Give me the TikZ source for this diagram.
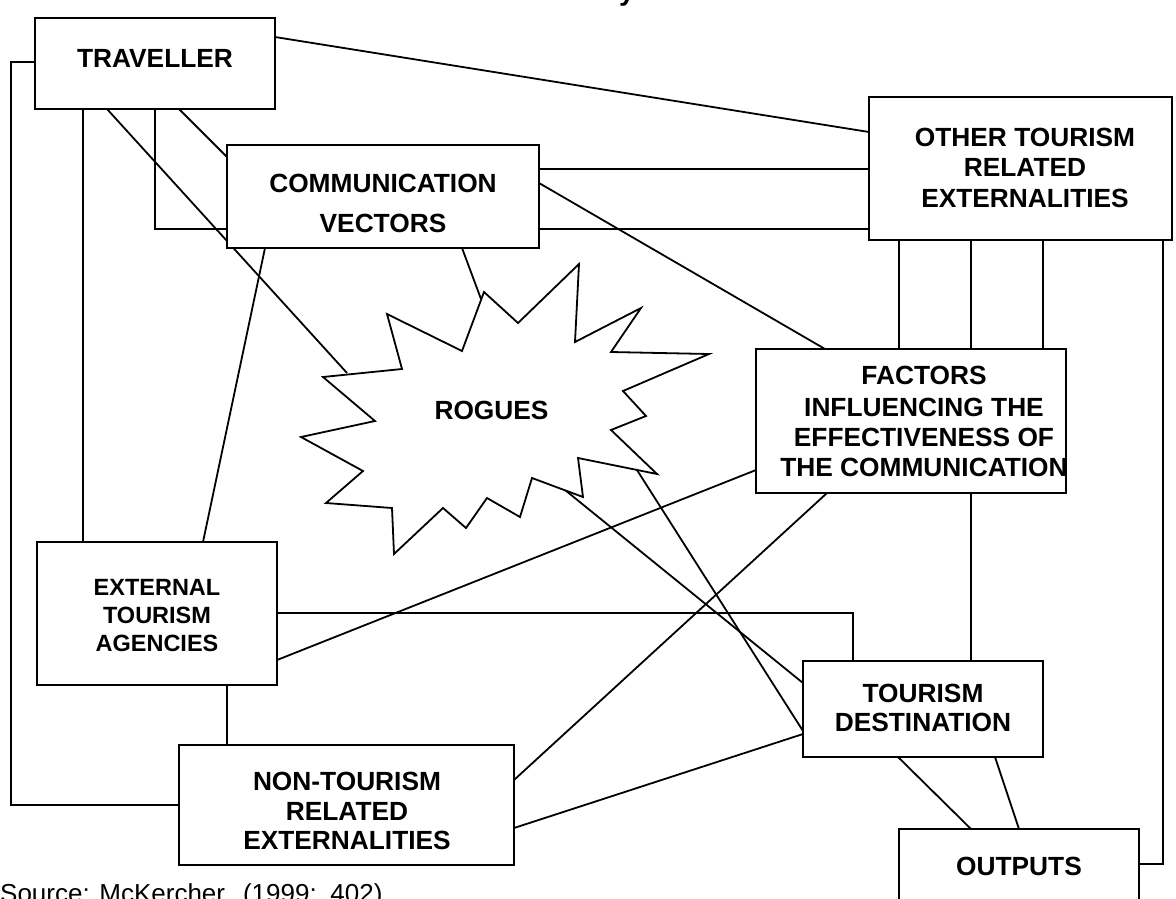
\documentclass[tikz,border=0pt]{standalone}
\usepackage{fontspec}
\setmainfont{Liberation Sans}
\usetikzlibrary{backgrounds}
\tikzset{
  x=1pt, y=-1pt,
  box/.style={draw=black, fill=white, line width=1.8pt, inner sep=0pt, outer sep=0pt},
  conn/.style={draw=black, line width=1.8pt},
  lbl/.style={anchor=base, inner sep=0pt, font=\fontsize{26.3}{30}\selectfont\bfseries},
  lbls/.style={anchor=base, inner sep=0pt, font=\fontsize{23.5}{28}\selectfont\bfseries},
  starshape/.style={draw=black, fill=white, line width=1.8pt, line join=miter},
}
\begin{document}
\begin{tikzpicture}
\useasboundingbox (0,0) rectangle (1176,898);
\clip (0,0) rectangle (1176,898);
% boxes (left,top)-(right,bottom)
\node[box, minimum width=240pt, minimum height=91pt] (trav) at (155,63.5) {};
\node[box, minimum width=312pt, minimum height=103pt] (comm) at (383,196.5) {};
\node[box, minimum width=303pt, minimum height=143pt] (other) at (1020.5,168.5) {};
\node[box, minimum width=310pt, minimum height=144pt] (fact) at (911,421) {};
\node[box, minimum width=240pt, minimum height=143pt] (ext) at (157,613.5) {};
\node[box, minimum width=335pt, minimum height=120pt] (non) at (346.5,805) {};
\node[box, minimum width=240pt, minimum height=96pt] (dest) at (923,709) {};
\node[box, minimum width=240pt, minimum height=90pt] (out) at (1019,874) {};
% star connection points
\coordinate (s-t) at (347,373);
\coordinate (s-c) at (481,299);
\coordinate (s-d1) at (565,490);
\coordinate (s-d2) at (637,470);
\coordinate (l2) at (11,805);
% star (rogues)
\draw[starshape] (484,292) -- (518,323) -- (579,264) -- (575,342) -- (641,308) -- (611,352) -- (709,354) -- (623,391) -- (646,416) -- (611,430) -- (657,474) -- (578,458) -- (583,497) -- (532,478) -- (520,517) -- (487,498) -- (466,528) -- (443,508) -- (394,554) -- (392,508) -- (326,503) -- (363,471) -- (301,437) -- (375,421) -- (323,377) -- (402,369) -- (387,314) -- (462,351) -- cycle;
% connectors
\begin{pgfonlayer}{background}
\draw[conn] ([yshift=-44pt]trav.north west) -| (l2) -- (non.west);
\draw[conn] ([xshift=48pt]trav.south west) -- ([xshift=46pt]ext.north west);
\draw[conn] ([xshift=72pt]trav.south west) -- (s-t);
\draw[conn] ([xshift=120pt]trav.south west) |- ([yshift=-84pt]comm.north west);
\draw[conn] ([xshift=144pt]trav.south west) -- ([yshift=-12pt]comm.north west);
\draw[conn] ([yshift=-19pt]trav.north east) -- ([yshift=-35pt]other.north west);
\draw[conn] ([yshift=-24pt]comm.north east) -- ([yshift=-72pt]other.north west);
\draw[conn] ([yshift=-84pt]comm.north east) -- ([yshift=-132pt]other.north west);
\draw[conn] ([yshift=-38pt]comm.north east) -- ([xshift=69pt]fact.north west);
\draw[conn] ([xshift=38pt]comm.south west) -- ([xshift=166pt]ext.north west);
\draw[conn] ([xshift=235pt]comm.south west) -- (s-c);
\draw[conn] ([xshift=30pt]other.south west) -- ([xshift=143pt]fact.north west);
\draw[conn] ([xshift=102pt]other.south west) -- ([xshift=215pt]fact.north west);
\draw[conn] ([xshift=174pt]other.south west) -- ([xshift=287pt]fact.north west);
\draw[conn] ([xshift=294pt]other.south west) |- ([yshift=-35pt]out.north east);
\draw[conn] ([xshift=215pt]fact.south west) -- ([xshift=168pt]dest.north west);
\draw[conn] ([yshift=-121pt]fact.north west) -- ([yshift=-118pt]ext.north east);
\draw[conn] ([xshift=71pt]fact.south west) -- ([yshift=-35pt]non.north east);
\draw[conn] ([yshift=-71pt]ext.north east) -| ([xshift=50pt]dest.north west);
\draw[conn] ([xshift=190pt]ext.south west) -- ([xshift=48pt]non.north west);
\draw[conn] ([yshift=-83pt]non.north east) -- ([yshift=-73pt]dest.north west);
\draw[conn] (s-d1) -- ([yshift=-22pt]dest.north west);
\draw[conn] (s-d2) -- ([yshift=-70pt]dest.north west);
\draw[conn] ([xshift=95pt]dest.south west) -- ([xshift=72pt]out.north west);
\draw[conn] ([xshift=192pt]dest.south west) -- ([xshift=120pt]out.north west);
\end{pgfonlayer}
% texts
\node[lbl] (t-trav) at (155,67.4) {TRAVELLER};
\node[lbl] (t-comm1) at (383,192.4) {COMMUNICATION};
\node[lbl] (t-comm2) at (383,232.4) {VECTORS};
\node[lbl] (t-oth1) at (1025,146.4) {OTHER TOURISM};
\node[lbl] (t-oth2) at (1025,176.4) {RELATED};
\node[lbl] (t-oth3) at (1025,207.4) {EXTERNALITIES};
\node[lbl] (t-fac1) at (924,384.4) {FACTORS};
\node[lbl] (t-fac2) at (924,416.4) {INFLUENCING THE};
\node[lbl] (t-fac3) at (924,446.4) {EFFECTIVENESS OF};
\node[lbl] (t-fac4) at (924,476.4) {THE COMMUNICATION};
\node[lbl] (t-rog) at (491.5,419.4) {ROGUES};
\node[lbls] (t-ext1) at (157,595.4) {EXTERNAL};
\node[lbls] (t-ext2) at (157,623.4) {TOURISM};
\node[lbls] (t-ext3) at (157,651.4) {AGENCIES};
\node[lbl] (t-non1) at (347,790.4) {NON-TOURISM};
\node[lbl] (t-non2) at (347,820.4) {RELATED};
\node[lbl] (t-non3) at (347,849.4) {EXTERNALITIES};
\node[lbl] (t-des1) at (923,702.4) {TOURISM};
\node[lbl] (t-des2) at (923,731.4) {DESTINATION};
\node[lbl] (t-out) at (1019,875.4) {OUTPUTS};
\node[anchor=base, inner sep=0pt, font=\fontsize{28}{32}\selectfont\bfseries] (t-title) at (627,0) {y};
\node[anchor=base west, inner sep=0pt, font=\fontsize{26}{30}\selectfont] (t-src) at (0,902) {Source: McKercher\hspace{18pt}(1999:\hspace{4pt} 402)};
\end{tikzpicture}
\end{document}
